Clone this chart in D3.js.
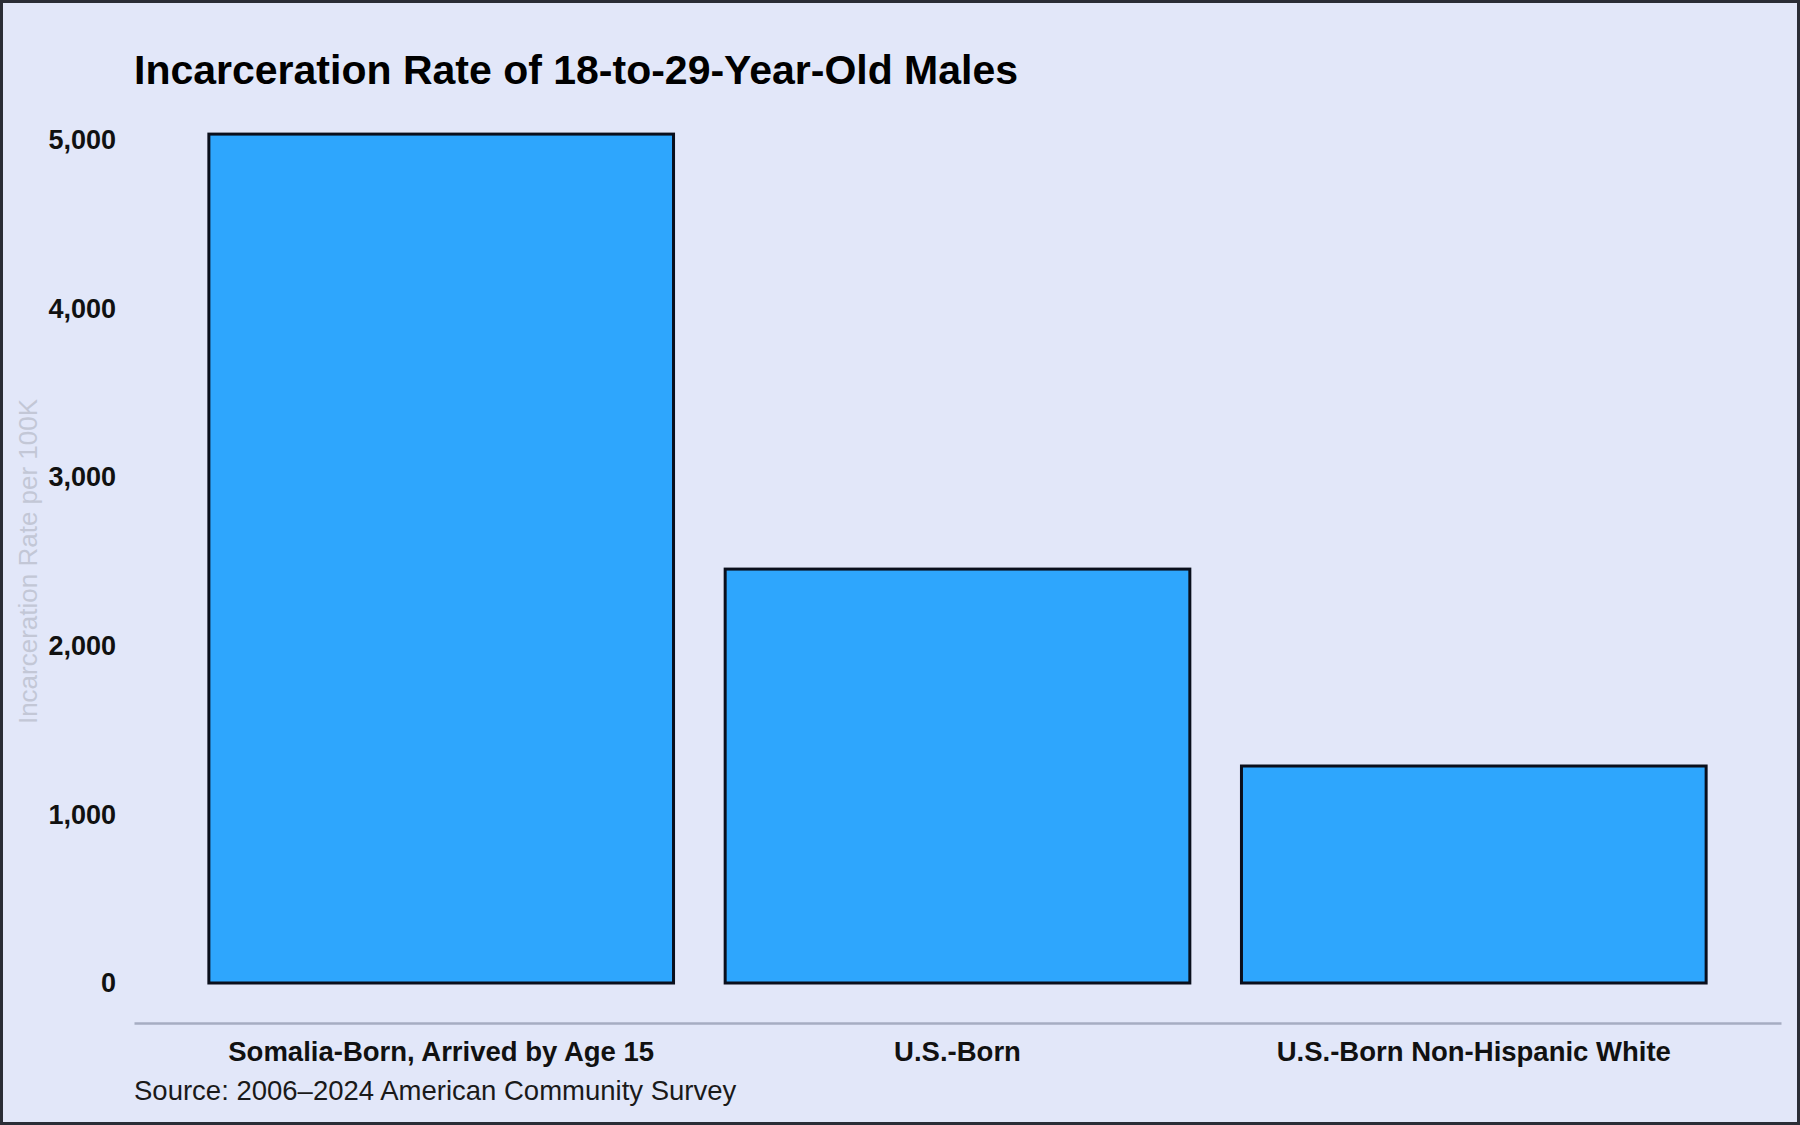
<!DOCTYPE html>
<html>
<head>
<meta charset="utf-8">
<script src="https://cdn.jsdelivr.net/npm/d3@7"></script>
<style>
  html, body { margin: 0; padding: 0; background: #e2e7f9; }
  svg { display: block; font-family: "Liberation Sans", Arial, sans-serif; }
</style>
</head>
<body>
<div id="chart"></div>
<script>
// chart data
const categories = ["Somalia-Born, Arrived by Age 15", "U.S.-Born", "U.S.-Born Non-Hispanic White"];
const rates = [5035, 2455, 1287];
const yTicks = [0, 1000, 2000, 3000, 4000, 5000];

const titleText = "Incarceration Rate of 18-to-29-Year-Old Males";
const yTitle = "Incarceration Rate per 100K";
const sourceText = "Source: 2006\u20132024 American Community Survey";

// dimensions
const W = 1800, H = 1125;
const plot = {left: 134, right: 1781, top: 140, bottom: 983};

const svg = d3.select("#chart")
    .append("svg")
    .attr("width", W)
    .attr("height", H);

// background + frame
svg.append("rect")
    .attr("x", 1.5).attr("y", 1.5)
    .attr("width", W - 3).attr("height", H - 3)
    .attr("fill", "#e2e7f9")
    .attr("stroke", "#2a2d36")
    .attr("stroke-width", 3);

// scales
const x = d3.scaleBand()
    .domain(categories)
    .range([plot.left, plot.right])
    .paddingInner(0.1)
    .paddingOuter(0.145);

const y = d3.scaleLinear()
    .domain([0, 5000])
    .range([plot.bottom, plot.top]);

// title
svg.append("text")
    .attr("x", 134)
    .attr("y", 84)
    .attr("font-size", 41)
    .attr("font-weight", "bold")
    .attr("fill", "#000")
    .text(titleText);

// y axis (labels only)
const yAxis = svg.append("g")
    .attr("transform", "translate(116,0)")
    .call(d3.axisLeft(y).tickValues(yTicks).tickFormat(d3.format(",")).tickSize(0).tickPadding(0));
yAxis.select(".domain").remove();
yAxis.selectAll("text")
    .attr("font-family", "Liberation Sans, Arial, sans-serif")
    .attr("font-size", 27)
    .attr("font-weight", "bold")
    .attr("fill", "#111");

// y axis title
svg.append("text")
    .attr("transform", `translate(37,${(plot.top + plot.bottom) / 2}) rotate(-90)`)
    .attr("text-anchor", "middle")
    .attr("font-size", 26)
    .attr("fill", "#c3c7d6")
    .text(yTitle);

// bars
svg.append("g")
    .selectAll("rect")
    .data(rates)
    .join("rect")
    .attr("x", (d, i) => x(categories[i]))
    .attr("y", d => y(d))
    .attr("width", x.bandwidth())
    .attr("height", d => y(0) - y(d))
    .attr("fill", "#2ea6fd")
    .attr("stroke", "#0a0f1c")
    .attr("stroke-width", 3);

// x axis
const xAxis = svg.append("g")
    .attr("transform", "translate(0,1023)")
    .call(d3.axisBottom(x).tickSize(0).tickPadding(18));
xAxis.select(".domain")
    .attr("stroke", "#a6adc2")
    .attr("stroke-width", 2.5);
xAxis.selectAll("text")
    .attr("font-family", "Liberation Sans, Arial, sans-serif")
    .attr("font-size", 27.5)
    .attr("font-weight", "bold")
    .attr("fill", "#111");

// source
svg.append("text")
    .attr("x", 134)
    .attr("y", 1100)
    .attr("font-size", 27.5)
    .attr("fill", "#1a1a1a")
    .text(sourceText);
</script>
</body>
</html>
